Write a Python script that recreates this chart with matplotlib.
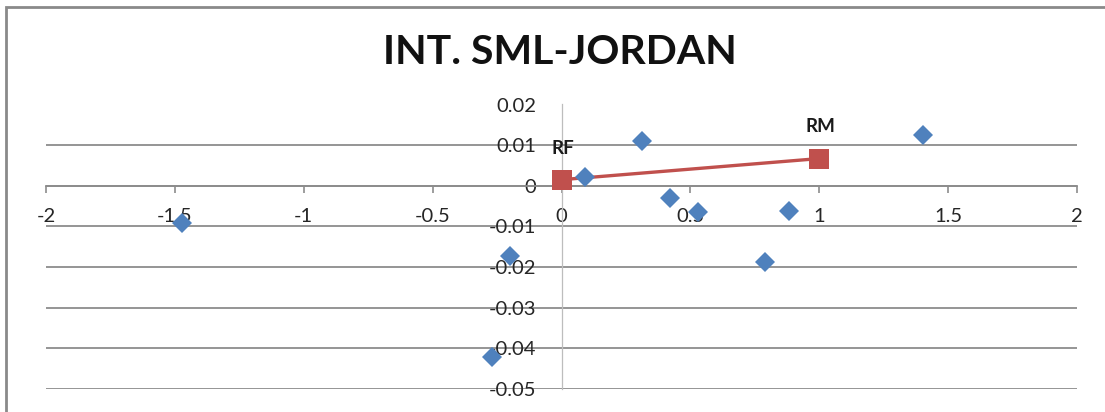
"""
INT. SML-JORDAN - scatter with security market line
"""
import matplotlib
matplotlib.use('Agg')
import matplotlib.pyplot as plt
import matplotlib.patches as mpatches

# ── Data ──
beta = [-1.473, -0.198, -0.271, 0.093, 0.314, 0.422, 0.531, 0.79, 0.884, 1.403]
ret = [-0.0091, -0.0173, -0.0422, 0.0022, 0.011, -0.003, -0.0064, -0.0188, -0.0062, 0.0126]

sml_x = [0, 1]
sml_y = [0.0015, 0.0067]
sml_labels = ['RF', 'RM']

x_ticks = [-2, -1.5, -1, -0.5, 0, 0.5, 1, 1.5, 2]
y_ticks = [-0.05, -0.04, -0.03, -0.02, -0.01, 0, 0.01, 0.02]

FONT = ['Lato', 'DejaVu Sans']
plt.rcParams['font.family'] = FONT

# ── Figure ──
fig = plt.figure(figsize=(11.05, 4.12), dpi=100)
fig.patch.set_facecolor('white')

# chart frame (only top/left visible in the crop)
fig.patches.append(mpatches.Rectangle((6 / 1105, -0.1), 1.2, 1 - 6.5 / 412 + 0.1,
                                      transform=fig.transFigure, fill=False,
                                      edgecolor='#8a8a8a', linewidth=2))

ax = fig.add_axes([46 / 1105, 1 - 389 / 412, (1077 - 46) / 1105, (389 - 104.5) / 412])
ax.set_facecolor('none')

ax.set_xlim(-2, 2)
ax.set_ylim(-0.05, 0.02)

ax.plot(sml_x, sml_y, color='#C0504D', linewidth=2.4, marker='s',
        markersize=14.5, markeredgewidth=0, zorder=3)
ax.plot(beta, ret, linestyle='none', marker='D', color='#4F81BD',
        markersize=10.2, markeredgewidth=0, zorder=4)

for lbl, xx, yy, off in zip(sml_labels, sml_x, sml_y, [(1, 31), (1, 32)]):
    ax.annotate(lbl, (xx, yy), xytext=off, textcoords='offset pixels',
                ha='center', va='center', fontsize=13.5, fontweight='bold',
                color='#1a1a1a')

# ── Axes crossing at origin ──
for s in ['top', 'right']:
    ax.spines[s].set_visible(False)
ax.spines['left'].set_position(('data', 0))
ax.spines['bottom'].set_position(('data', 0))
ax.spines['left'].set_color('#bdbdbd')
ax.spines['left'].set_linewidth(0.9)
ax.spines['bottom'].set_color('#8c8c8c')
ax.spines['bottom'].set_linewidth(1.3)

ax.set_xticks(x_ticks)
ax.set_xticklabels([f'{v:g}' for v in x_ticks])
ax.set_yticks(y_ticks)
ax.set_yticklabels([f'{v:g}' for v in y_ticks])
ax.tick_params(axis='x', direction='out', length=5, width=1.2, color='#8c8c8c',
               pad=11, labelsize=14.5, labelcolor='#262626')
ax.tick_params(axis='y', length=0, pad=18, labelsize=14.5, labelcolor='#262626')

ax.yaxis.grid(True, color='#8c8c8c', linewidth=1.3)
ax.set_axisbelow(True)

fig.text(0.507, 1 - 52 / 412, 'INT. SML-JORDAN', ha='center', va='center',
         fontsize=29.5, fontweight='bold', color='#111111')

fig.savefig('out.png', dpi=100)
plt.close(fig)
